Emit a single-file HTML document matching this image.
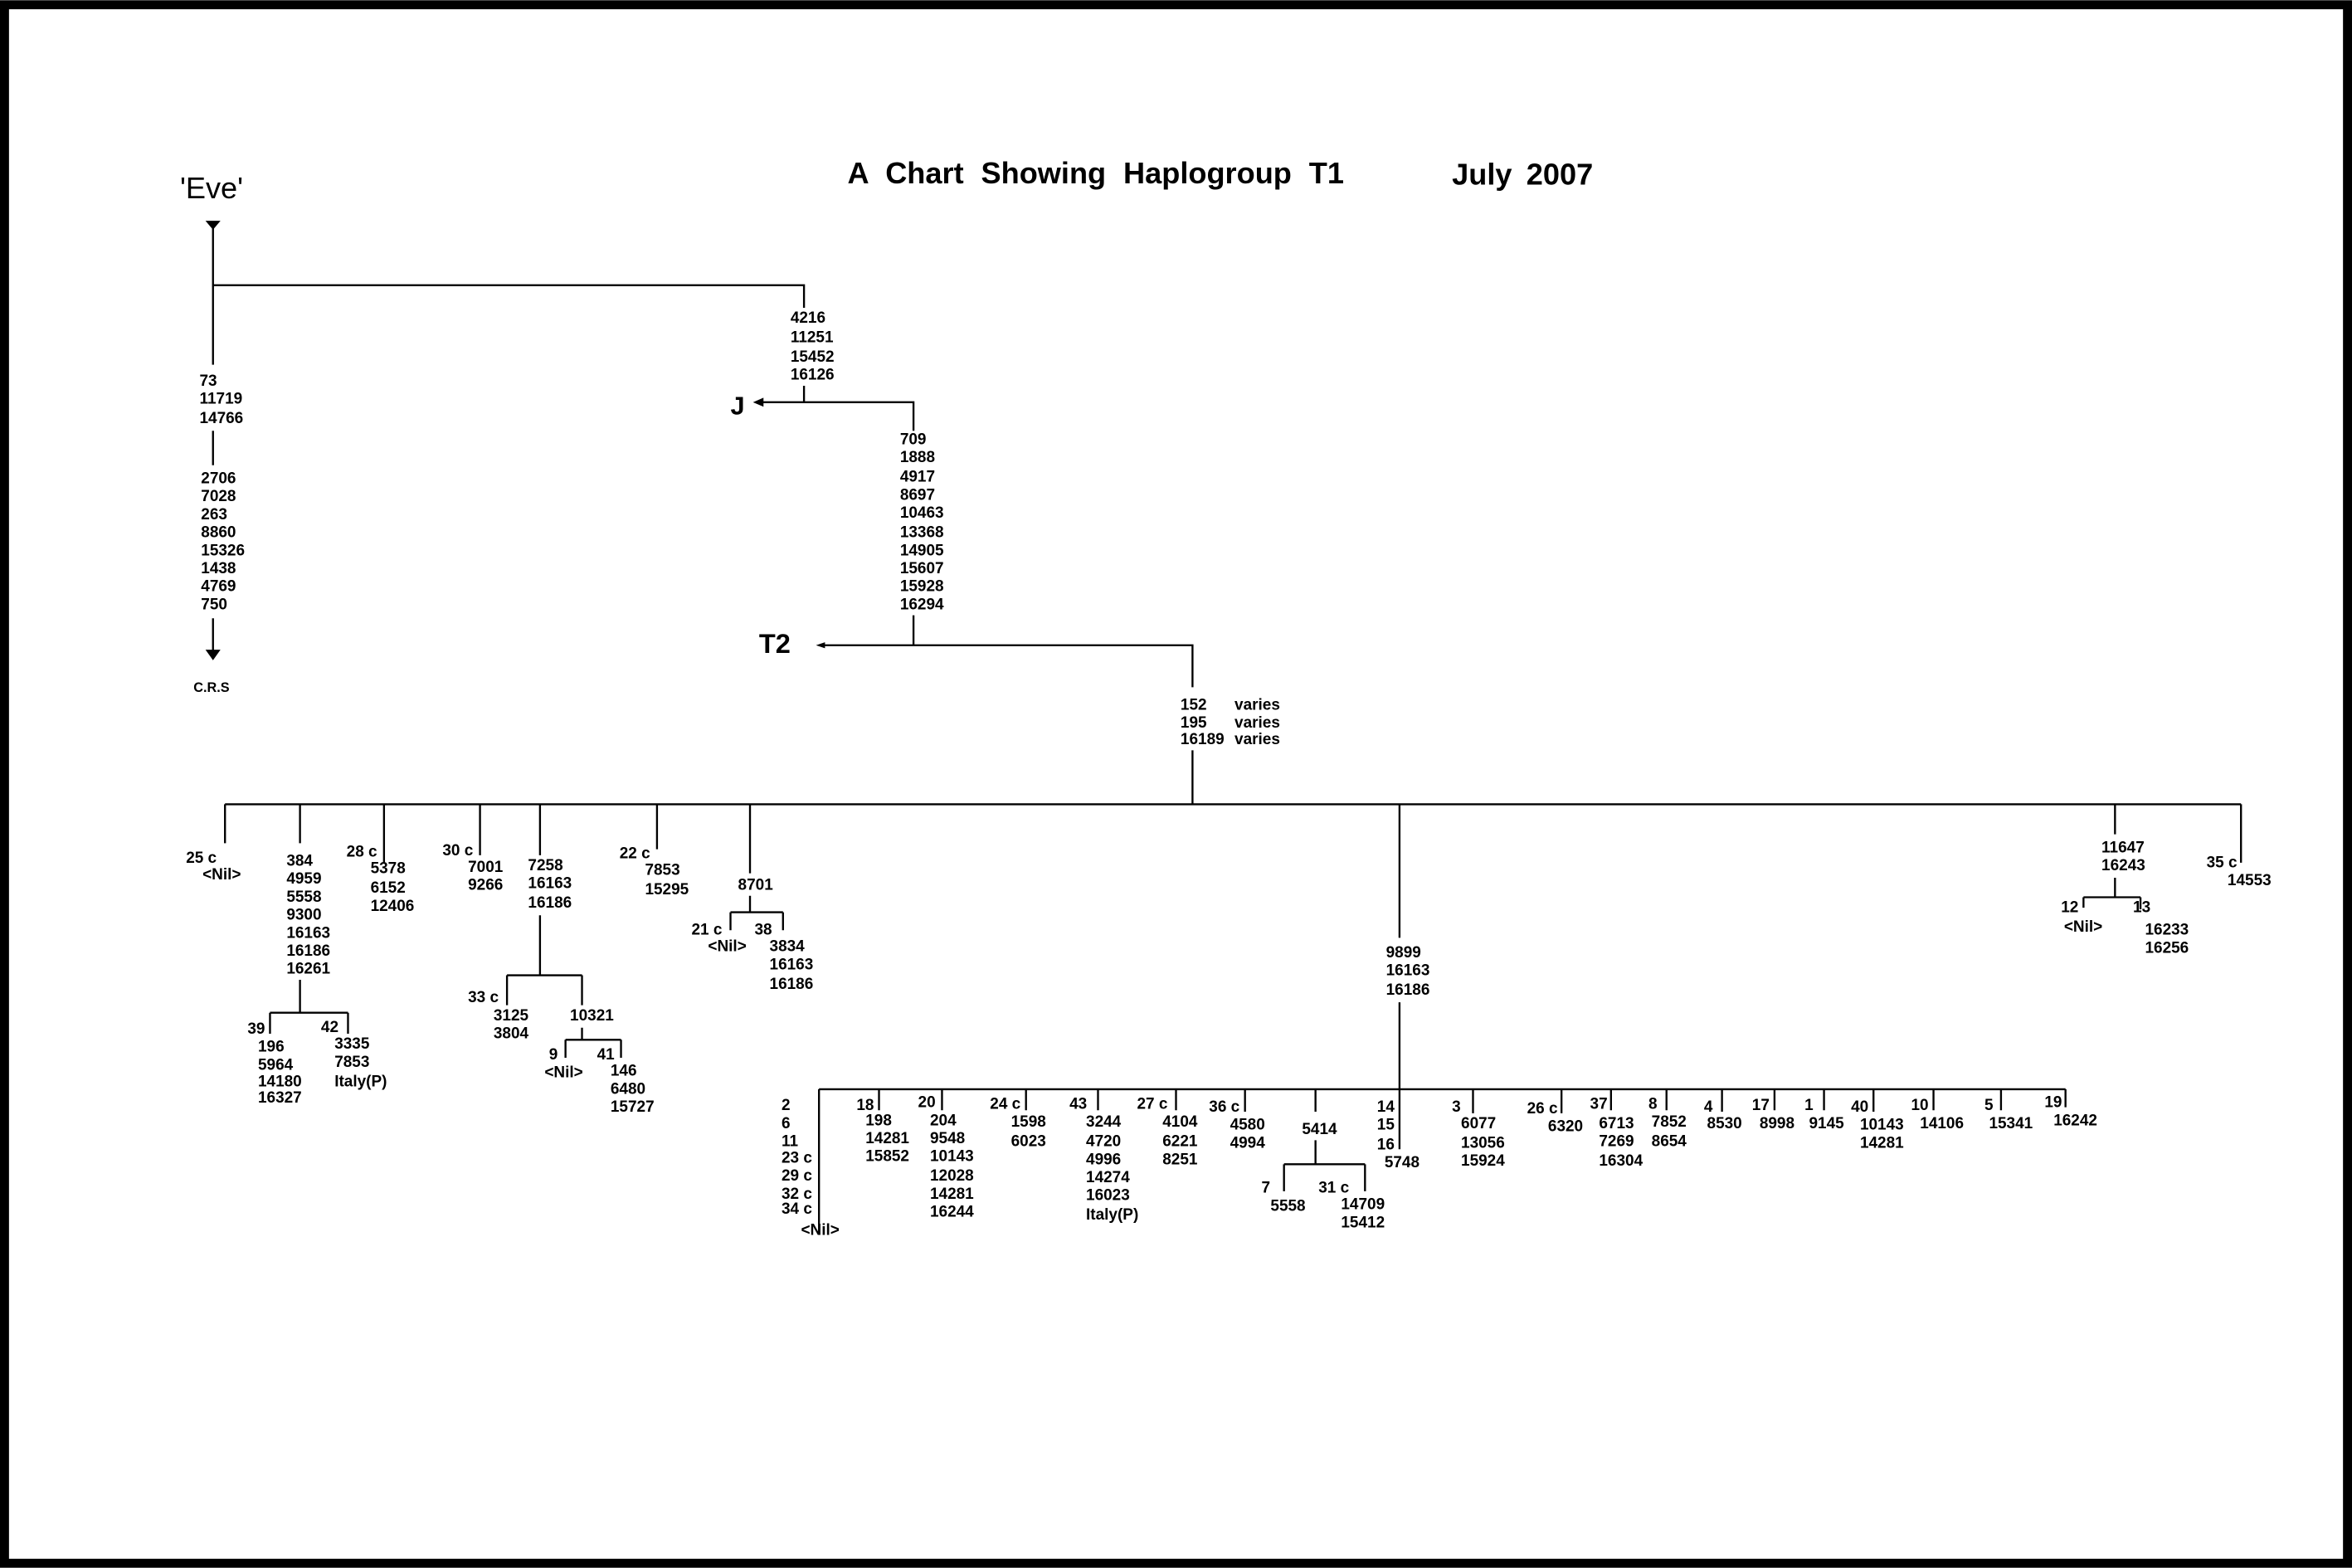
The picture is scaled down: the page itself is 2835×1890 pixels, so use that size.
<!DOCTYPE html>
<html><head><meta charset="utf-8"><style>
html,body{margin:0;padding:0;background:#fff}
svg{display:block}
text{font-family:"Liberation Sans",Arial,sans-serif;font-weight:bold;font-size:10.5px;fill:#000}
</style></head><body>
<svg width="2835" height="1890" viewBox="0 0 1568 1045" xmlns="http://www.w3.org/2000/svg">
<rect x="0" y="0" width="1568" height="1045" fill="#fff"/>
<rect x="3" y="3" width="1562" height="1039" fill="none" stroke="#000" stroke-width="6"/>
<g stroke="#000" stroke-width="1.3" fill="none">
<path d="M142 148V243M142 190H536V205M142 287V310M142 412V434M536 257V268M505 268H609V287M609 410V430M549 430H795V458M795 500V536M150 536H1494"/>
<path d="M150 536V562M200 536V562M200 653V675M180 675H232M180 675V689M232 675V689M256 536V575M320 536V570M360 536V570M360 610V650M338 650H388M338 650V670M388 650V670M388 685V693M377 693H414M377 693V705M414 693V705M438 536V566M500 536V582M500 597V608M487 608H522M487 608V620M522 608V620"/>
<path d="M933 536V625M933 668V766M546 726H1377M1410 536V556M1410 585V598M1389 598H1427M1389 598V605M1427 598V606M1494 536V575"/>
<path d="M546 726V822M586 726V740M628 726V740M684 726V740M732 726V740M784 726V740M830 726V741M877 726V741M877 760V776M856 776H910M856 776V794M910 776V794M982 726V742M1041 726V742M1074 726V740M1111 726V740M1148 726V741M1183 726V740M1216 726V740M1249 726V741M1289 726V740M1334 726V740M1377 726V738"/>
</g>
<polygon points="137,147 147,147 142,153" fill="#000"/>
<polygon points="137,433 147,433 142,440" fill="#000"/>
<polygon points="502,268 509,265 509,271" fill="#000"/>
<polygon points="544,430 550,428 550,432" fill="#000"/>
<text x="565" y="122" style="font-size:20px;word-spacing:6px">A Chart Showing Haplogroup T1</text>
<text x="968" y="123" style="font-size:20px;word-spacing:4px">July 2007</text>
<text x="120" y="132" style="font-size:20px;font-weight:normal">'Eve'</text>
<text x="487" y="276" style="font-size:17px">J</text>
<text x="506" y="435" style="font-size:18px">T2</text>
<text x="129" y="461" style="font-size:9px">C.R.S</text>
<g id="t"></g>
<text x="133" y="257">73</text><text x="133" y="269">11719</text><text x="133" y="282">14766</text>
<g transform="translate(134,0)"><text y="322">2706</text><text y="334">7028</text><text y="346">263</text><text y="358">8860</text><text y="370">15326</text><text y="382">1438</text><text y="394">4769</text><text y="406">750</text></g>
<g transform="translate(527,0)"><text y="215">4216</text><text y="228">11251</text><text y="241">15452</text><text y="253">16126</text></g>
<g transform="translate(600,0)"><text y="296">709</text><text y="308">1888</text><text y="321">4917</text><text y="333">8697</text><text y="345">10463</text><text y="358">13368</text><text y="370">14905</text><text y="382">15607</text><text y="394">15928</text><text y="406">16294</text></g>
<g transform="translate(787,0)"><text y="473">152</text><text y="485">195</text><text y="496">16189</text></g>
<g transform="translate(823,0)"><text y="473">varies</text><text y="485">varies</text><text y="496">varies</text></g>
<text x="124" y="575">25 c</text><text x="135" y="586">&lt;Nil&gt;</text>
<g transform="translate(191,0)"><text y="577">384</text><text y="589">4959</text><text y="601">5558</text><text y="613">9300</text><text y="625">16163</text><text y="637">16186</text><text y="649">16261</text></g>
<text x="165" y="689">39</text>
<g transform="translate(172,0)"><text y="701">196</text><text y="713">5964</text><text y="724">14180</text><text y="735">16327</text></g>
<text x="214" y="688">42</text>
<g transform="translate(223,0)"><text y="699">3335</text><text y="711">7853</text><text y="724">Italy(P)</text></g>
<text x="231" y="571">28 c</text>
<g transform="translate(247,0)"><text y="582">5378</text><text y="595">6152</text><text y="607">12406</text></g>
<text x="295" y="570">30 c</text><text x="312" y="581">7001</text><text x="312" y="593">9266</text>
<g transform="translate(352,0)"><text y="580">7258</text><text y="592">16163</text><text y="605">16186</text></g>
<text x="312" y="668">33 c</text><text x="329" y="680">3125</text><text x="329" y="692">3804</text>
<text x="380" y="680">10321</text>
<text x="366" y="706">9</text><text x="363" y="718">&lt;Nil&gt;</text>
<text x="398" y="706">41</text>
<g transform="translate(407,0)"><text y="717">146</text><text y="729">6480</text><text y="741">15727</text></g>
<text x="413" y="572">22 c</text><text x="430" y="583">7853</text><text x="430" y="596">15295</text>
<text x="492" y="593">8701</text>
<text x="461" y="623">21 c</text><text x="472" y="634">&lt;Nil&gt;</text>
<text x="503" y="623">38</text>
<g transform="translate(513,0)"><text y="634">3834</text><text y="646">16163</text><text y="659">16186</text></g>
<g transform="translate(924,0)"><text y="638">9899</text><text y="650">16163</text><text y="663">16186</text></g>
<text x="1401" y="568">11647</text><text x="1401" y="580">16243</text>
<text x="1374" y="608">12</text><text x="1376" y="621">&lt;Nil&gt;</text>
<text x="1422" y="608">13</text><text x="1430" y="623">16233</text><text x="1430" y="635">16256</text>
<text x="1471" y="578">35 c</text><text x="1485" y="590">14553</text>
<g transform="translate(521,0)"><text y="740">2</text><text y="752">6</text><text y="764">11</text><text y="775">23 c</text><text y="787">29 c</text><text y="799">32 c</text><text y="809">34 c</text></g>
<text x="534" y="823">&lt;Nil&gt;</text>
<text x="571" y="740">18</text>
<g transform="translate(577,0)"><text y="750">198</text><text y="762">14281</text><text y="774">15852</text></g>
<text x="612" y="738">20</text>
<g transform="translate(620,0)"><text y="750">204</text><text y="762">9548</text><text y="774">10143</text><text y="787">12028</text><text y="799">14281</text><text y="811">16244</text></g>
<text x="660" y="739">24 c</text><text x="674" y="751">1598</text><text x="674" y="764">6023</text>
<text x="713" y="739">43</text>
<g transform="translate(724,0)"><text y="751">3244</text><text y="764">4720</text><text y="776">4996</text><text y="788">14274</text><text y="800">16023</text><text y="813">Italy(P)</text></g>
<text x="758" y="739">27 c</text>
<g transform="translate(775,0)"><text y="751">4104</text><text y="764">6221</text><text y="776">8251</text></g>
<text x="806" y="741">36 c</text><text x="820" y="753">4580</text><text x="820" y="765">4994</text>
<text x="868" y="756">5414</text>
<text x="841" y="795">7</text><text x="847" y="807">5558</text>
<text x="879" y="795">31 c</text><text x="894" y="806">14709</text><text x="894" y="818">15412</text>
<g transform="translate(918,0)"><text y="741">14</text><text y="753">15</text><text y="766">16</text></g>
<text x="923" y="778">5748</text>
<text x="968" y="741">3</text>
<g transform="translate(974,0)"><text y="752">6077</text><text y="765">13056</text><text y="777">15924</text></g>
<text x="1018" y="742">26 c</text><text x="1032" y="754">6320</text>
<text x="1060" y="739">37</text>
<g transform="translate(1066,0)"><text y="752">6713</text><text y="764">7269</text><text y="777">16304</text></g>
<text x="1099" y="739">8</text><text x="1101" y="751">7852</text><text x="1101" y="764">8654</text>
<text x="1136" y="741">4</text><text x="1138" y="752">8530</text>
<text x="1168" y="740">17</text><text x="1173" y="752">8998</text>
<text x="1203" y="740">1</text><text x="1206" y="752">9145</text>
<text x="1234" y="741">40</text><text x="1240" y="753">10143</text><text x="1240" y="765">14281</text>
<text x="1274" y="740">10</text><text x="1280" y="752">14106</text>
<text x="1323" y="740">5</text><text x="1326" y="752">15341</text>
<text x="1363" y="738">19</text><text x="1369" y="750">16242</text>
</svg>
</body></html>
